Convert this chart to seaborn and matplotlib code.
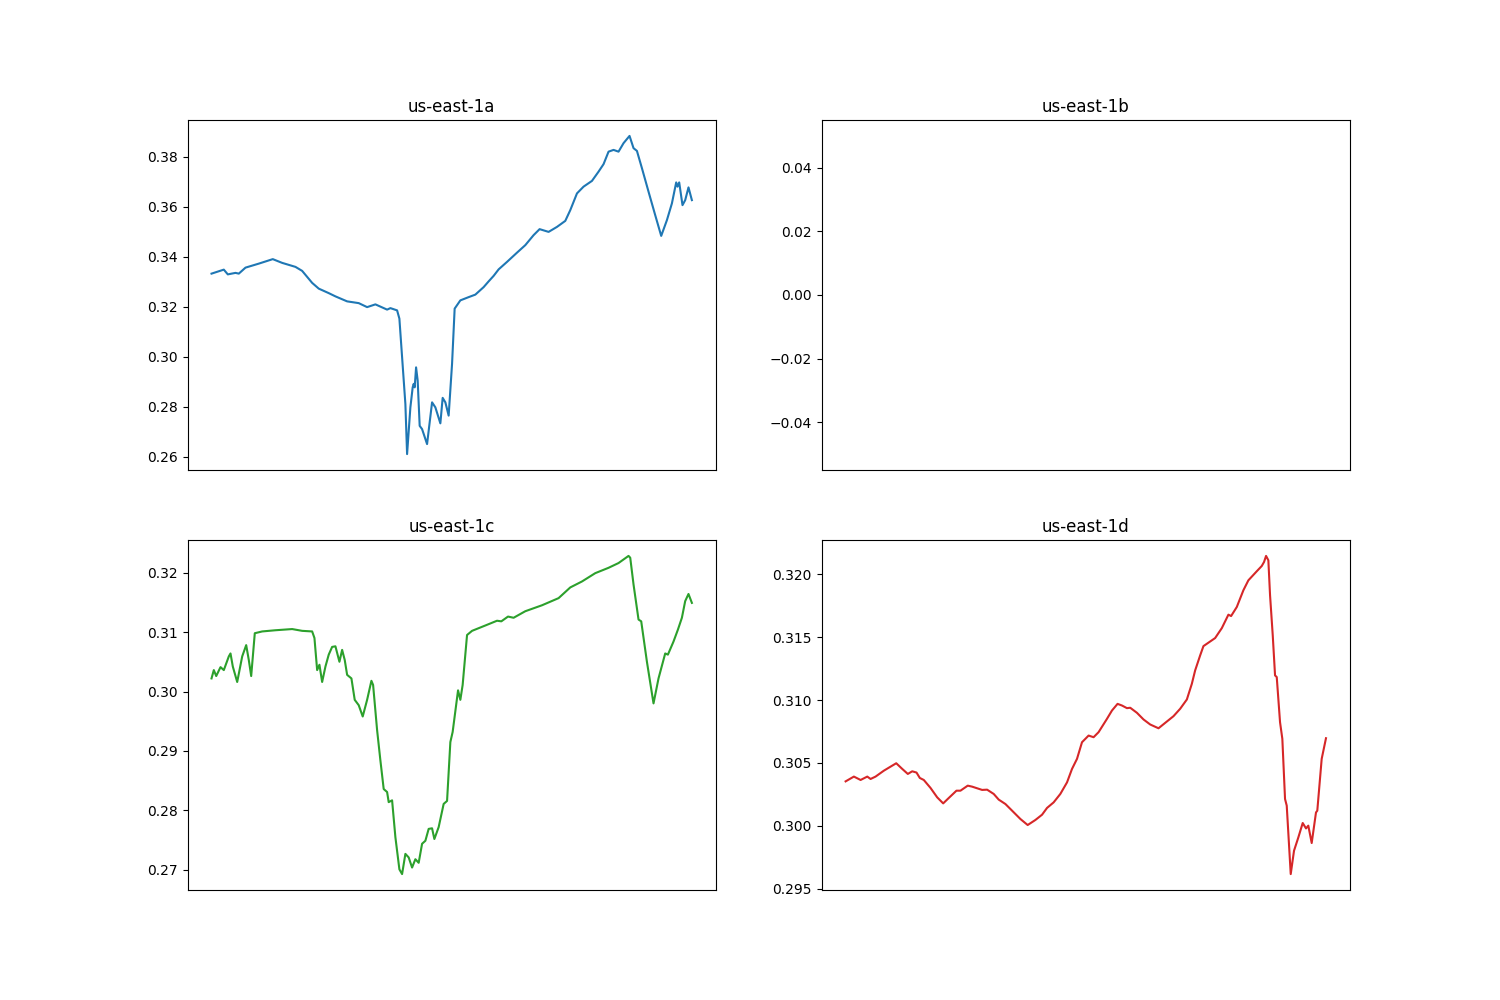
"""
Spot price history per availability zone (us-east-1)
"""

import matplotlib
matplotlib.use('Agg')
import matplotlib.pyplot as plt
import seaborn as sns

# Datos (x = horas desde el inicio, y = precio)
zones = ['us-east-1a', 'us-east-1b', 'us-east-1c', 'us-east-1d']

hours_1a = [0, 12.3, 16.3, 24, 27.3, 34, 47.3, 61.3, 70.7, 84,
            90.7, 100.7, 107.3, 117.3, 124, 135.7, 147.3, 155.7, 164, 175.7,
            179, 185.7, 188, 190.7, 194, 195.7, 199, 201.3, 202.3, 203.3,
            204.7, 206.3, 208.3, 210.7, 215.7, 220.7, 224, 229, 231.3, 234,
            237.3, 240.7, 243.3, 249, 257.3, 264, 272.3, 277.3, 282.3, 287.3,
            295.7, 305.7, 314, 322.3, 328.3, 337.3, 345.7, 354, 359, 365.7,
            372.3, 380.7, 387.3, 392.3, 397.3, 402.3, 407.3, 412.3, 418.3, 422.3,
            425.7, 430.7, 437.3, 444, 450, 455.7, 460.7, 465, 466.3, 468,
            471.3, 474, 477.3, 480.7]
price_1a = [0.3333, 0.3349, 0.3330, 0.3336, 0.3333, 0.3357, 0.3373, 0.3391, 0.3376, 0.3360,
            0.3344, 0.3296, 0.3273, 0.3255, 0.3242, 0.3222, 0.3215, 0.3199, 0.3210, 0.3189,
            0.3195, 0.3186, 0.3153, 0.2999, 0.2811, 0.2611, 0.2798, 0.2878, 0.2892, 0.2878,
            0.2958, 0.2905, 0.2724, 0.2711, 0.2651, 0.2818, 0.2798, 0.2734, 0.2836, 0.2818,
            0.2765, 0.2972, 0.3193, 0.3226, 0.3239, 0.3249, 0.3279, 0.3302, 0.3324, 0.3350,
            0.3380, 0.3417, 0.3447, 0.3487, 0.3511, 0.3500, 0.3520, 0.3544, 0.3587, 0.3654,
            0.3681, 0.3704, 0.3741, 0.3771, 0.3821, 0.3828, 0.3821, 0.3855, 0.3884, 0.3835,
            0.3824, 0.3755, 0.3661, 0.3567, 0.3484, 0.3547, 0.3614, 0.3698, 0.3681, 0.3698,
            0.3607, 0.3627, 0.3678, 0.3627]

# us-east-1b solo tiene un registro
hours_1b = [0]
price_1b = [0.0]

hours_1c = [0, 2.3, 4.7, 9, 12.3, 17.3, 19, 21.3, 25.7, 30.7,
            34.7, 37.3, 39.7, 43.3, 50.7, 64, 80.7, 90.7, 100.7, 103,
            105.7, 108, 110.7, 114, 117.3, 120.7, 124, 128, 130.7, 133.3,
            135.7, 140, 143.3, 147.3, 151.3, 155.7, 160, 161.7, 165.7, 169,
            172.3, 175.7, 177.3, 180.7, 184, 188, 190.7, 194, 197.3, 200.7,
            204, 207.3, 210.7, 214, 217.3, 220.7, 223, 227.3, 232.3, 235.7,
            239, 241.3, 246.7, 249, 251.3, 255.7, 260.7, 274, 285.7, 290,
            296.7, 302.3, 314, 330.7, 347.3, 359, 370.7, 384, 397.3, 407.3,
            417.3, 419, 422.3, 427.3, 430, 435.7, 442.3, 447.3, 454, 456.7,
            462.3, 466.7, 470.7, 474, 477.3, 480.7]
price_1c = [0.3022, 0.3036, 0.3026, 0.3041, 0.3036, 0.3059, 0.3064, 0.3042, 0.3016, 0.3059,
            0.3078, 0.3053, 0.3026, 0.3098, 0.3101, 0.3103, 0.3105, 0.3102, 0.3101, 0.3090,
            0.3036, 0.3045, 0.3016, 0.3042, 0.3062, 0.3075, 0.3076, 0.3050, 0.3070, 0.3053,
            0.3028, 0.3022, 0.2986, 0.2977, 0.2958, 0.2986, 0.3018, 0.3011, 0.2935, 0.2884,
            0.2836, 0.2831, 0.2814, 0.2817, 0.2755, 0.2701, 0.2693, 0.2727, 0.2721, 0.2704,
            0.2718, 0.2712, 0.2744, 0.2749, 0.2769, 0.2770, 0.2752, 0.2772, 0.2811, 0.2816,
            0.2915, 0.2932, 0.3002, 0.2986, 0.3011, 0.3095, 0.3102, 0.3111, 0.3119, 0.3118,
            0.3126, 0.3124, 0.3135, 0.3145, 0.3157, 0.3175, 0.3185, 0.3199, 0.3208, 0.3216,
            0.3228, 0.3225, 0.3180, 0.3121, 0.3118, 0.3050, 0.2980, 0.3022, 0.3064, 0.3062,
            0.3084, 0.3104, 0.3124, 0.3152, 0.3164, 0.3149]

hours_1d = [0, 8.3, 15, 21.7, 25, 30, 38.3, 45, 50.7, 56.7,
            62.3, 66.7, 71, 74.3, 78.3, 85, 91.7, 97.7, 103.3, 111,
            115, 122.3, 126.7, 136.7, 141.7, 148.3, 153.3, 160, 166.7, 175,
            182.3, 190, 196.7, 201.7, 208.3, 215, 221.7, 226.7, 231.7, 236.7,
            243.3, 248.3, 253.3, 261.7, 266.7, 272.3, 276.7, 281.7, 285, 291.7,
            298.3, 305, 313.3, 320, 328.3, 335, 341.7, 346.7, 350, 355,
            358.3, 370, 376.7, 383.3, 386, 391.7, 398.3, 403.3, 411.7, 416.7,
            419, 421, 423.3, 425, 427.7, 430, 431.7, 435, 437.3, 440,
            441.7, 445.7, 449, 453.3, 457.7, 461, 463.3, 466.7, 471, 472.3,
            476.7, 481]
price_1d = [0.30354, 0.30392, 0.30365, 0.30392, 0.30373, 0.30392, 0.30439, 0.30471, 0.30498, 0.30453,
            0.30413, 0.30434, 0.30424, 0.30381, 0.30365, 0.30302, 0.30227, 0.30179, 0.30222, 0.30280,
            0.30280, 0.30320, 0.30312, 0.30286, 0.30288, 0.30254, 0.30209, 0.30174, 0.30121, 0.30055,
            0.30007, 0.30047, 0.30089, 0.30143, 0.30187, 0.30254, 0.30346, 0.30453, 0.30533, 0.30665,
            0.30718, 0.30705, 0.30745, 0.30851, 0.30917, 0.30970, 0.30957, 0.30936, 0.30939, 0.30899,
            0.30846, 0.30806, 0.30776, 0.30819, 0.30872, 0.30931, 0.31005, 0.31130, 0.31236, 0.31355,
            0.31429, 0.31493, 0.31572, 0.31679, 0.31668, 0.31740, 0.31873, 0.31952, 0.32024, 0.32066,
            0.32098, 0.32146, 0.32111, 0.31833, 0.31514, 0.31196, 0.31183, 0.30824, 0.30692, 0.30214,
            0.30161, 0.29617, 0.29803, 0.29908, 0.30023, 0.29980, 0.30002, 0.29864, 0.30107, 0.30121,
            0.30533, 0.30697]

series = [(hours_1a, price_1a), (hours_1b, price_1b), (hours_1c, price_1c), (hours_1d, price_1d)]
colors = sns.color_palette('tab10', 4)

fig, axes = plt.subplots(2, 2, figsize=(15, 10))

for i, (zone, (hours, price)) in enumerate(zip(zones, series)):
    ax = axes.flat[i]
    sns.lineplot(x=hours, y=price, ax=ax, color=colors[i])
    ax.set_title(zone)
    ax.set_xticks([])
    ax.set_xlabel('')
    ax.set_ylabel('')

plt.savefig('out.png', dpi=100)
plt.close()
